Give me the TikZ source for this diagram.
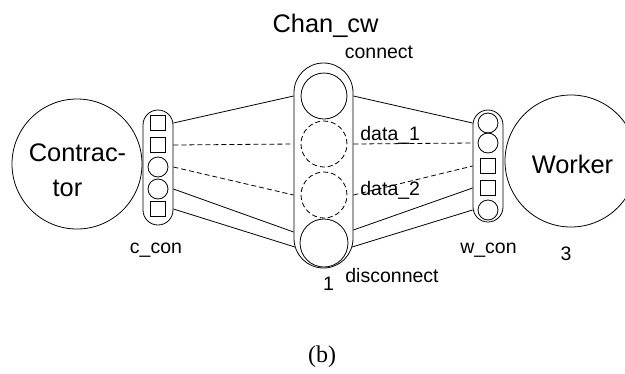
\documentclass[tikz,border=0pt]{standalone}
\usepackage{fontspec}
\setmainfont{Liberation Sans}
\newfontfamily\capfont{Liberation Serif}
\usetikzlibrary{calc}
\begin{document}
\begin{tikzpicture}[x=1pt,y=-1pt,line width=0.8pt,
  big/.style={font=\fontsize{25.4}{35}\selectfont,inner sep=0pt},
  small/.style={font=\fontsize{19.5}{23}\selectfont,inner sep=0pt},
  sq/.style={draw,minimum size=15pt,inner sep=0pt},
  port/.style={draw,circle,minimum size=20pt,inner sep=0pt},
  chanc/.style={draw,circle,minimum size=46pt,inner sep=0pt},
  chand/.style={chanc,dash pattern=on 5pt off 3pt},
  dline/.style={dash pattern=on 5pt off 3pt},
  actor/.style={draw,circle,inner sep=0pt},
  capsule/.style={draw,inner sep=0pt}]
\useasboundingbox (0,0) rectangle (625,373);
% actors
\node[actor,minimum size=130pt] (contr) at (77,164) {};
\node[big,align=center] (ctext) at (77.5,170) {Contrac-\\tor\hspace*{20pt}};
\node[actor,minimum size=132pt] (worker) at (571,161) {};
\node[big,anchor=base] (wtext) at (572.5,173) {Worker};
% c_con
\node[capsule,rounded corners=15pt,minimum width=30pt,minimum height=115pt] (ccon) at (158,167.5) {};
\node[sq] (c1) at (158,123) {};
\node[sq] (c2) at (158,145) {};
\node[port] (c3) at (158,167) {};
\node[port] (c4) at (158,189) {};
\node[sq] (c5) at (158,209) {};
% w_con
\node[capsule,rounded corners=15pt,minimum width=30pt,minimum height=112pt] (wcon) at (488,166) {};
\node[port] (w1) at (488,123) {};
\node[port] (w2) at (488,143) {};
\node[sq] (w3) at (488,166) {};
\node[sq] (w4) at (488,188) {};
\node[port] (w5) at (488,210) {};
% channel
\node[capsule,rounded corners=29.5pt,minimum width=59pt,minimum height=205pt] (chan) at (323.5,165.5) {};
\node[chanc] (con) at (324,96) {};
\node[chand] (d1) at (324,144) {};
\node[chand] (d2) at (324,195) {};
\node[chanc,minimum size=48pt] (dis) at (324,243) {};
% labels
\node[big,anchor=base] (chanlbl) at (325.5,32) {Chan\_cw};
\node[small,anchor=base] (connlbl) at (379,58) {connect};
\node[small,anchor=base west] (d1lbl) at (360,140) {data\_1};
\node[small,anchor=base west] (d2lbl) at (360,195) {data\_2};
\node[small,anchor=base west] (dislbl) at (345,282) {disconnect};
\node[small,anchor=base] (one) at (328.5,290) {1};
\node[small,anchor=base] (cconlbl) at (156,253) {c\_con};
\node[small,anchor=base] (wconlbl) at (488.5,253) {w\_con};
\node[small,anchor=base] (three) at (566,260) {3};
\node[font=\capfont\fontsize{24}{28}\selectfont,inner sep=0pt,anchor=base] (cap) at (322,362) {(b)};
% connectors left
\draw (ccon.east |- c1) -- (chan.west |- con);
\draw[dline] (ccon.east |- c2) -- (chan.west |- d1);
\draw[dline] (ccon.east |- c3) -- (chan.west |- d2);
\draw (ccon.east |- c4) -- ($(chan.west |- dis)+(0,-11)$);
\draw (ccon.east |- c5) -- ($(chan.west |- dis)+(1.3,4)$);
% connectors right
\draw (chan.east |- con) -- (wcon.west |- w1);
\draw[dline] (chan.east |- d1) -- (wcon.west |- w2);
\draw[dline] (chan.east |- d2) -- (wcon.west |- w3);
\draw ($(chan.east |- dis)+(0,-13)$) -- (wcon.west |- w4);
\draw ($(chan.east |- dis)+(-1.3,4)$) -- (wcon.west |- w5);
\end{tikzpicture}
\end{document}
